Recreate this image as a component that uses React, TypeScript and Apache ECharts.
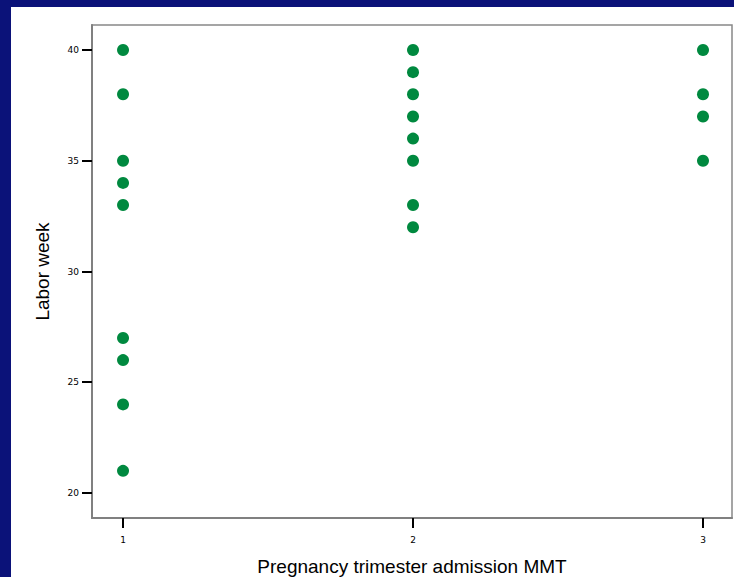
import React, { useEffect, useRef } from "react";
import * as echarts from "echarts";

const trimester1 = [40, 38, 35, 34, 33, 27, 26, 24, 21];
const trimester2 = [40, 39, 38, 37, 36, 35, 33, 32];
const trimester3 = [40, 38, 37, 35];
const xTicks = [1, 2, 3];
const yTicks = [20, 25, 30, 35, 40];

export default function App() {
  const ref = useRef<HTMLDivElement>(null);
  useEffect(() => {
    if (!ref.current) return;
    const chart = echarts.init(ref.current, null, { renderer: "svg" });
    const data: number[][] = [];
    trimester1.forEach((v) => data.push([1, v]));
    trimester2.forEach((v) => data.push([2, v]));
    trimester3.forEach((v) => data.push([3, v]));
    chart.setOption({
      animation: false,
      backgroundColor: "#0b1279",
      graphic: [
        {
          type: "rect",
          z: -10,
          silent: true,
          shape: { x: 11, y: 7, width: 734 - 11, height: 577 - 7 },
          style: { fill: "#ffffff" },
        },
      ],
      grid: {
        left: 92,
        top: 25,
        right: 2,
        bottom: 59,
        show: true,
        borderColor: "#888888",
        borderWidth: 1.5,
        backgroundColor: "transparent",
        containLabel: false,
        outerBoundsMode: "none",
      },
      xAxis: {
        type: "value",
        min: 0.893,
        max: 3.1,
        name: "Pregnancy trimester admission MMT",
        nameLocation: "middle",
        nameGap: 39,
        nameMoveOverlap: false,
        nameTextStyle: { fontFamily: "Liberation Sans", fontSize: 19, color: "#000" },
        splitLine: { show: false },
        axisLine: { show: true, lineStyle: { color: "#808080", width: 2 } },
        axisTick: { show: true, customValues: xTicks, length: 10, lineStyle: { color: "#000", width: 2 } },
        axisLabel: {
          customValues: xTicks,
          margin: 17,
          fontSize: 9,
          fontFamily: "DejaVu Sans",
          color: "#000",
        },
      },
      yAxis: {
        type: "value",
        min: 18.87,
        max: 41.13,
        name: "Labor week",
        nameLocation: "middle",
        nameGap: 40,
        nameMoveOverlap: false,
        nameTextStyle: { fontFamily: "Liberation Sans", fontSize: 19, color: "#000" },
        splitLine: { show: false },
        axisLine: { show: true, lineStyle: { color: "#808080", width: 2 } },
        axisTick: { show: true, customValues: yTicks, length: 10, lineStyle: { color: "#000", width: 2 } },
        axisLabel: {
          customValues: yTicks,
          margin: 13,
          fontSize: 9,
          fontFamily: "DejaVu Sans",
          color: "#000",
        },
      },
      series: [
        {
          type: "scatter",
          data,
          symbol: "circle",
          symbolSize: 12,
          itemStyle: { color: "#00893f", opacity: 1 },
        },
      ],
    });
    return () => chart.dispose();
  }, []);
  return (
    <div style={{ position: "absolute", left: 0, top: 0, width: 734, height: 577, overflow: "hidden" }}>
      <div ref={ref} style={{ width: 734, height: 577 }} />
    </div>
  );
}
